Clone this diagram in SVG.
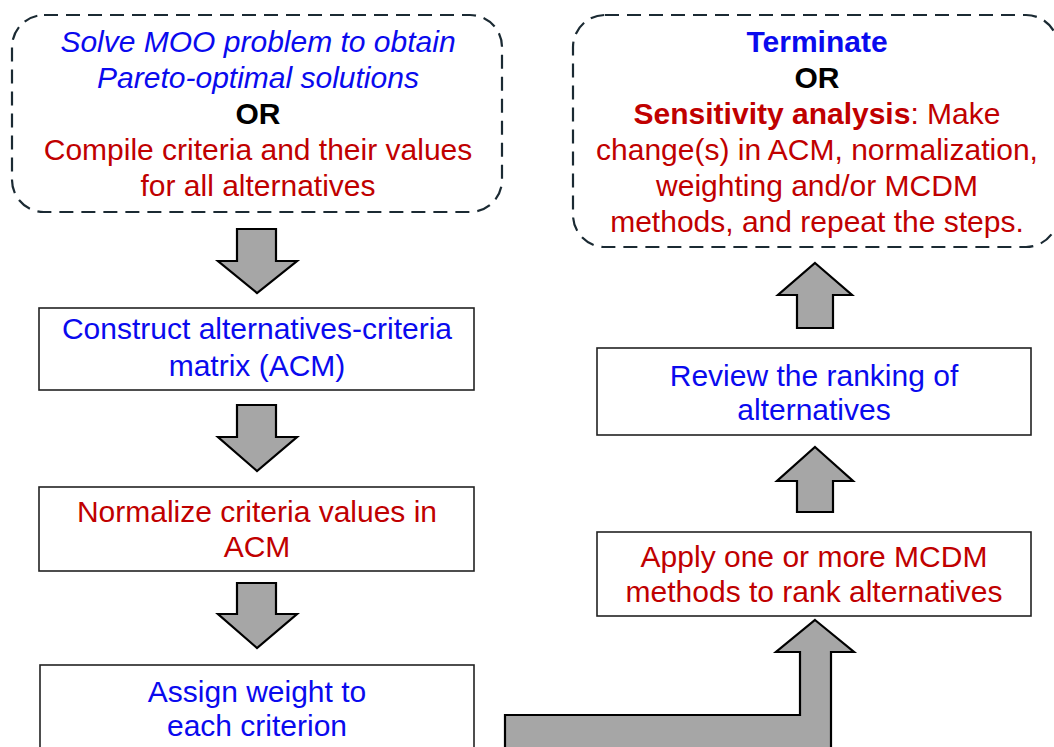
<svg xmlns="http://www.w3.org/2000/svg" width="1054" height="747" viewBox="0 0 1054 747">
<style>
text{font-family:"Liberation Sans",Arial,sans-serif;font-size:30px;text-anchor:middle;dominant-baseline:central}
.b{fill:#0a0aee}.r{fill:#c00000}.k{fill:#000}.bold{font-weight:bold}.i{font-style:italic}
.dash{fill:#fff;stroke:#1b2a33;stroke-width:2.2;stroke-dasharray:14 8}
.box{fill:#fff;stroke:#222;stroke-width:1.6}
.arr{fill:#a6a6a6;stroke:#000;stroke-width:2.2;stroke-linejoin:miter}
</style>
<rect width="1054" height="747" fill="#fff"/>
<g id="start">
<rect class="dash" x="12" y="15" width="490" height="197" rx="32"/>
<text x="258" y="41" class="b i">Solve MOO problem to obtain</text>
<text x="258" y="77" class="b i">Pareto-optimal solutions</text>
<text x="258" y="113" class="k bold">OR</text>
<text x="258" y="149" class="r">Compile criteria and their values</text>
<text x="258" y="185" class="r">for all alternatives</text>
</g>
<g id="end">
<rect class="dash" x="573" y="15" width="485" height="232" rx="32"/>
<text x="817" y="41" class="b bold">Terminate</text>
<text x="817" y="77" class="k bold">OR</text>
<text x="817" y="113" class="r"><tspan class="bold">Sensitivity analysis</tspan>: Make</text>
<text x="817" y="149" class="r">change(s) in ACM, normalization,</text>
<text x="817" y="185" class="r">weighting and/or MCDM</text>
<text x="817" y="221" class="r">methods, and repeat the steps.</text>
</g>
<g id="acm">
<rect class="box" x="39" y="308" width="435" height="82"/>
<text x="257" y="328" class="b">Construct alternatives-criteria</text>
<text x="257" y="365" class="b">matrix (ACM)</text>
</g>
<g id="normalize">
<rect class="box" x="39" y="487" width="435" height="84"/>
<text x="257" y="511" class="r">Normalize criteria values in</text>
<text x="257" y="546" class="r">ACM</text>
</g>
<g id="weight">
<rect class="box" x="40" y="665" width="434" height="100"/>
<text x="257" y="691" class="b">Assign weight to</text>
<text x="257" y="725" class="b">each criterion</text>
</g>
<g id="apply">
<rect class="box" x="597" y="532" width="434" height="84"/>
<text x="814" y="556" class="r">Apply one or more MCDM</text>
<text x="814" y="591" class="r">methods to rank alternatives</text>
</g>
<g id="review">
<rect class="box" x="597" y="348" width="434" height="87"/>
<text x="814" y="375" class="b">Review the ranking of</text>
<text x="814" y="409" class="b">alternatives</text>
</g>
<g id="connectors">
<polygon class="arr" points="237,229 276,229 276,261 297,261 257,293 218,261 237,261"/>
<polygon class="arr" points="237,405 276,405 276,437 297,437 257,471 218,437 237,437"/>
<polygon class="arr" points="237,583 276,583 276,614 297,614 257,648 218,614 237,614"/>
<polygon class="arr" points="815,447 853,481 833,481 833,512 797,512 797,481 777,481"/>
<polygon class="arr" points="815,263 852,295 833,295 833,328 797,328 797,295 778,295"/>
<polygon class="arr" points="815,620 854,652 831,652 831,760 505,760 505,715 800,715 800,652 776,652"/>
</g>
</svg>
